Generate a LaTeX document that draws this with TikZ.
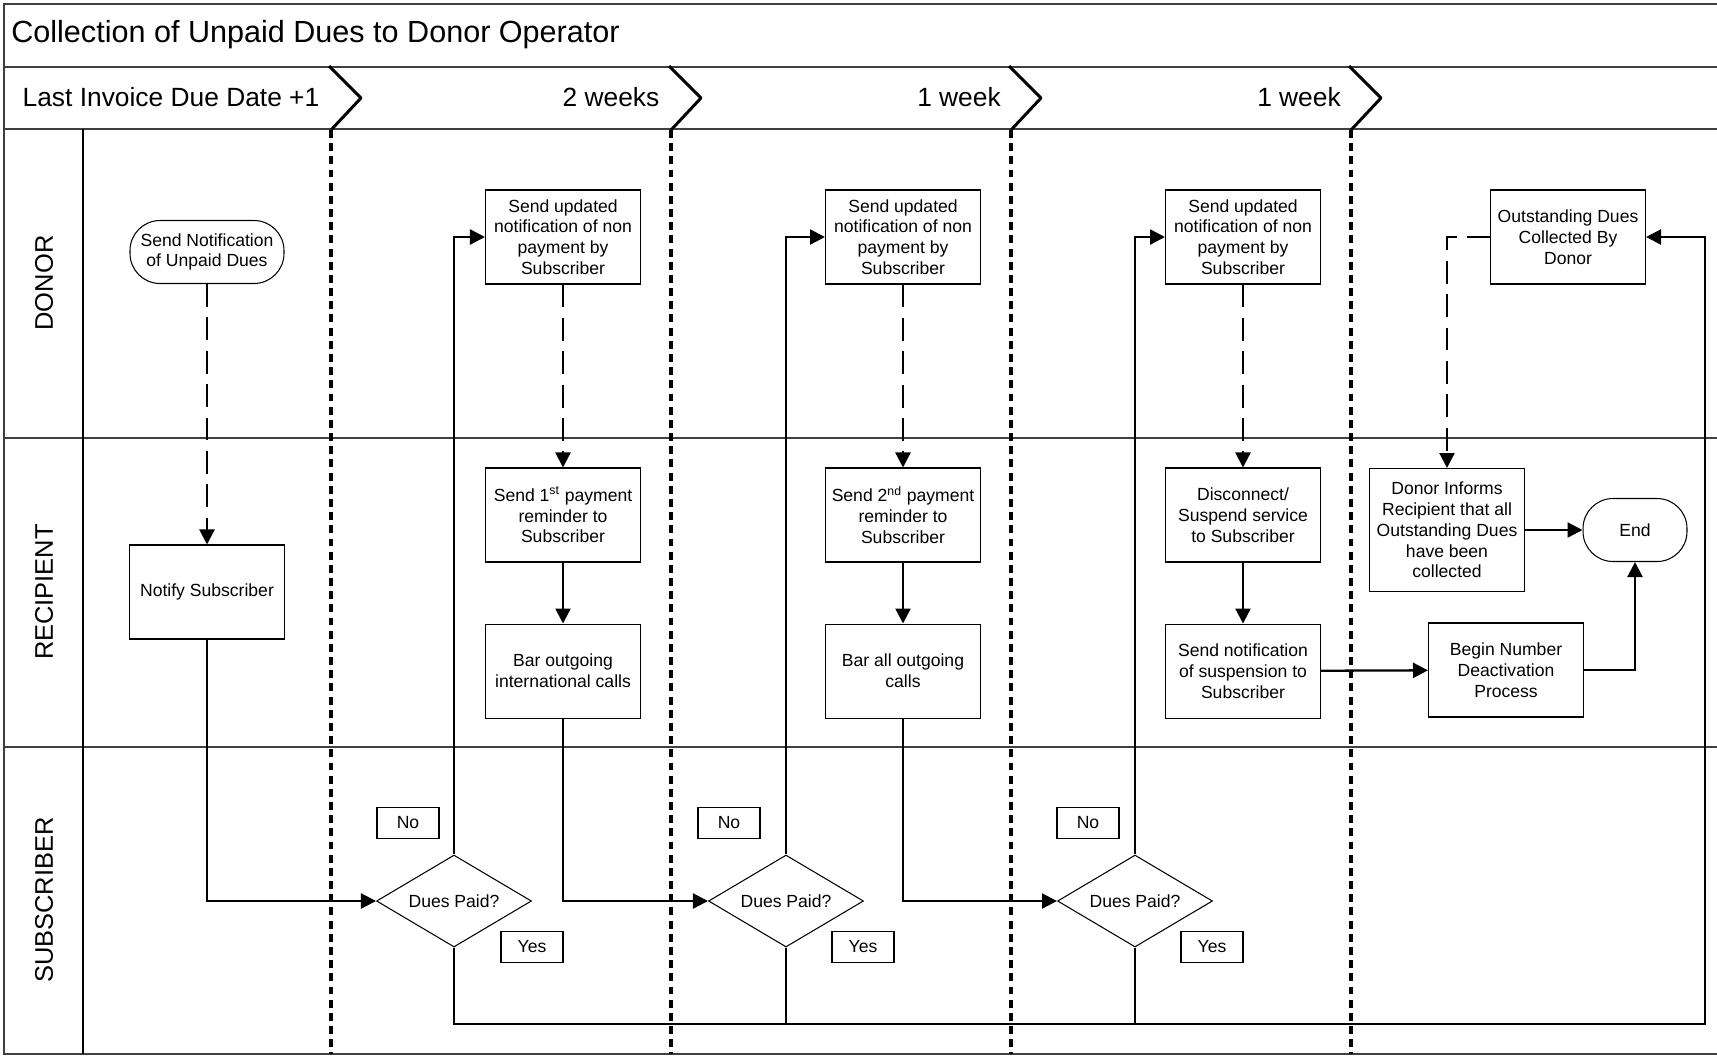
\documentclass[tikz,border=0pt]{standalone}
\usepackage{fontspec}
\setmainfont{Liberation Sans}
\usepackage{tikz}
\usetikzlibrary{arrows.meta,positioning,shapes.geometric}
\definecolor{framegray}{HTML}{404040}
\tikzset{
  box/.style={draw,fill=white,line width=0.6pt,align=center,inner sep=2pt,minimum width=3.1cm,minimum height=1.88cm,font=\fontsize{10}{11.8}\selectfont},
  term/.style={box,rounded corners=0.6cm,minimum height=1.26cm},
  dec/.style={box,diamond,aspect=1.68,inner sep=0pt,minimum width=3.1cm,minimum height=1.84cm},
  tag/.style={box,minimum width=1.24cm,minimum height=0.63cm},
  arr/.style={-{Triangle[length=3mm,width=3mm]},line width=1.3pt},
  arrd/.style={arr,dash pattern=on 13pt off 6pt},
  wire/.style={line width=1.3pt},
  sepl/.style={line width=2.1pt,dash pattern=on 4.5pt off 3pt},
  chev/.style={line width=1.7pt,line join=round},
  frm/.style={draw=framegray,line width=1.1pt},
  head/.style={font=\fontsize{15}{18}\selectfont},
  lbl/.style={rotate=90,font=\fontsize{14.5}{17}\selectfont},
}
\begin{document}
\begin{tikzpicture}[x=0.02cm,y=-0.02cm,node distance=1.22cm]
\useasboundingbox (0,0) rectangle (1717,1056);
% frame and lanes
\draw[frm] (1717,4)--(4,4)--(4,1054)--(1717,1054);
\draw[frm] (4,67)--(1717,67);\draw[frm] (4,129)--(1717,129);
\draw[frm] (4,438)--(1717,438);\draw[frm] (4,747)--(1717,747);
\draw[line width=0.6pt] (83,129)--(83,1054);
\node[anchor=west,inner sep=0pt,font=\fontsize{17.4}{20}\selectfont] (title) at (11,35) {Collection of Unpaid Dues to Donor Operator};
\node[lbl] (ld) at (44,283) {DONOR};
\node[lbl] (lr) at (44,592) {RECIPIENT};
\node[lbl] (ls) at (44,900) {SUBSCRIBER};
% timeline
\node[head] (t0) at (171,97) {Last Invoice Due Date +1};
\node[head] (t1) at (611,97) {2 weeks};
\node[head] (t2) at (959,97) {1 week};
\node[head] (t3) at (1299,97) {1 week};
\draw[chev] (329,66)--(361,98)--(331,130);\draw[sepl] (331,130)--(331,1054);
\draw[chev] (669,66)--(701,98)--(671,130);\draw[sepl] (671,130)--(671,1054);
\draw[chev] (1009,66)--(1041,98)--(1011,130);\draw[sepl] (1011,130)--(1011,1054);
\draw[chev] (1349,66)--(1381,98)--(1351,130);\draw[sepl] (1351,130)--(1351,1054);
% first notice
\node[term,minimum width=3.08cm] (n0) at (207,252) {Send Notification\\of Unpaid Dues};
\node[box] (n1) at (207,592) {Notify Subscriber};
\node[dec] (d1) at (454,901) {Dues Paid?};
\node[tag] (no1) at (408,823) {No};
\node[tag] (yes1) at (532,947) {Yes};
% after 2 weeks
\node[box] (a1) at (563,237) {Send updated\\notification of non\\payment by\\Subscriber};
\node[box] (a2) at (563,515) {Send 1\textsuperscript{st} payment\\reminder to\\Subscriber};
\node[box,below=of a2] (a3) {Bar outgoing\\international calls};
\node[dec] (d2) at (786,901) {Dues Paid?};
\node[tag] (no2) at (729,823) {No};
\node[tag] (yes2) at (863,947) {Yes};
% after 1 week
\node[box] (b1) at (903,237) {Send updated\\notification of non\\payment by\\Subscriber};
\node[box] (b2) at (903,515) {Send 2\textsuperscript{nd} payment\\reminder to\\Subscriber};
\node[box,below=of b2] (b3) {Bar all outgoing\\calls};
\node[dec] (d3) at (1135,901) {Dues Paid?};
\node[tag] (no3) at (1088,823) {No};
\node[tag] (yes3) at (1212,947) {Yes};
% after another week
\node[box] (c1) at (1243,237) {Send updated\\notification of non\\payment by\\Subscriber};
\node[box] (c2) at (1243,515) {Disconnect/\\Suspend service\\to Subscriber};
\node[box,below=of c2] (c3) {Send notification\\of suspension to\\Subscriber};
% closing
\node[box] (e1) at (1568,237) {Outstanding Dues\\Collected By\\Donor};
\node[box,minimum height=2.46cm] (e2) at (1447,530) {Donor Informs\\Recipient that all\\Outstanding Dues\\have been\\collected};
\node[term,minimum width=2.08cm] (e3) at (1635,530) {End};
\node[box] (e4) at (1506,670) {Begin Number\\Deactivation\\Process};
\coordinate (ybus) at (1705,1024);
% connectors
\draw[arrd](n0)--(n1);\draw[arr](n1)|-(d1);\draw[arr](d1)|-(a1);
\draw[arrd](a1)--(a2);\draw[arr](a2)--(a3);\draw[arr](a3)|-(d2);\draw[arr](d2)|-(b1);
\draw[arrd](b1)--(b2);\draw[arr](b2)--(b3);\draw[arr](b3)|-(d3);\draw[arr](d3)|-(c1);
\draw[arrd](c1)--(c2);\draw[arr](c2)--(c3);\draw[arr](c3)--(e4);\draw[arr](e4)-|(e3);
\draw[arr](e2)--(e3);\draw[arrd](e1)-|(e2);
\draw[arr](d1)|-(ybus)|-(e1);
\draw[wire](d2)--(d2|-ybus);\draw[wire](d3)--(d3|-ybus);
\end{tikzpicture}
\end{document}
